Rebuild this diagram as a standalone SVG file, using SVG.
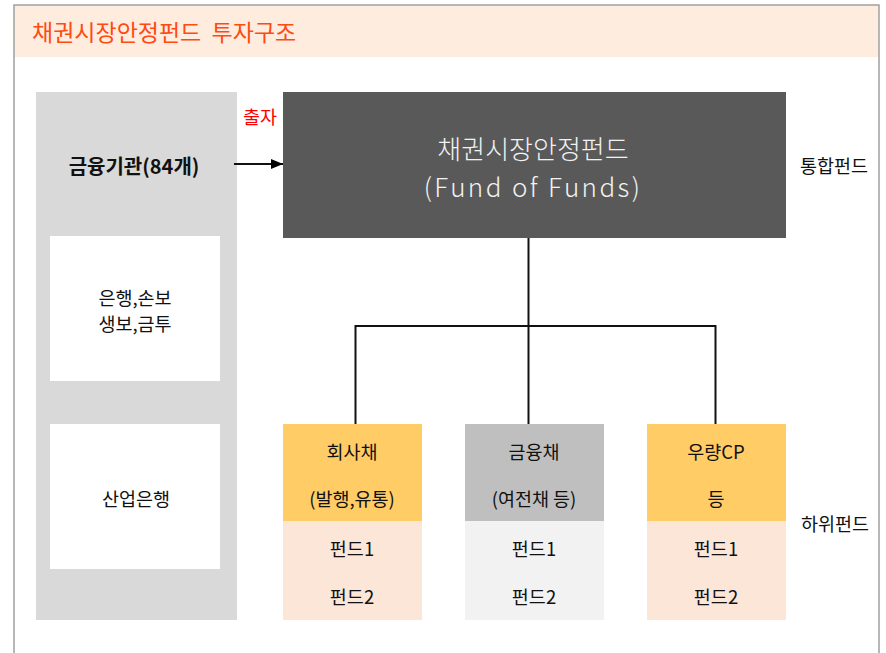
<svg xmlns="http://www.w3.org/2000/svg" width="886" height="653" viewBox="0 0 886 653">
<defs>
<style>
text{font-family:"Noto Sans CJK KR","Noto Sans",sans-serif;dominant-baseline:central;text-anchor:middle;fill:#111;font-size:18.5px}
.title{fill:#FF4A12;font-size:23px;text-anchor:start;white-space:pre}
.dark{fill:#F2F2F2;font-size:26px;font-weight:300}
.bold{font-weight:bold;font-size:20px}
.red{fill:#FF0000;font-size:18.5px}
.conn{stroke:#111;stroke-width:2;fill:none}
</style>
<marker id="ah" markerWidth="12" markerHeight="10" refX="12" refY="5" orient="auto" markerUnits="userSpaceOnUse">
<path d="M0,0 L12,5 L0,10 Z" fill="#000"/>
</marker>
</defs>
<rect x="0" y="0" width="886" height="653" fill="#fff"/>
<g id="frame">
<rect x="14" y="5" width="865" height="52" fill="#FEEDDE"/>
<path d="M14,653 V5 H879 V653" fill="none" stroke="#A0A0A0" stroke-width="1.5"/>
<text class="title" x="32" y="31">채권시장안정펀드  투자구조</text>
</g>
<g id="institutions">
<rect x="36" y="92" width="201" height="528" fill="#D9D9D9"/>
<text class="bold" x="134" y="165">금융기관(84개)</text>
</g>
<g id="banks">
<rect x="50" y="236" width="170" height="145" fill="#fff"/>
<text x="135" y="297">은행,손보</text>
<text x="135" y="323">생보,금투</text>
</g>
<g id="kdb">
<rect x="50" y="424" width="170" height="145" fill="#fff"/>
<text x="136" y="498">산업은행</text>
</g>
<g id="fof">
<rect x="283" y="92" width="503" height="146" fill="#595959"/>
<text class="dark" x="533" y="147">채권시장안정펀드</text>
<text class="dark" x="533" y="185" letter-spacing="2.4">(Fund of Funds)</text>
</g>
<g id="label-top"><text x="834" y="165">통합펀드</text></g>
<g id="label-bottom"><text x="835" y="523">하위펀드</text></g>
<g id="corp">
<rect x="283" y="424" width="139" height="97" fill="#FFCC66"/>
<rect x="283" y="521" width="139" height="99" fill="#FBE6D8"/>
<text x="352" y="451">회사채</text>
<text x="352" y="498">(발행,유통)</text>
<text x="352" y="548">펀드1</text>
<text x="352" y="596">펀드2</text>
</g>
<g id="fin">
<rect x="465" y="424" width="139" height="97" fill="#BFBFBF"/>
<rect x="465" y="521" width="139" height="99" fill="#F2F2F2"/>
<text x="534" y="451">금융채</text>
<text x="534" y="498">(여전채 등)</text>
<text x="534" y="548">펀드1</text>
<text x="534" y="596">펀드2</text>
</g>
<g id="cp">
<rect x="647" y="424" width="139" height="97" fill="#FFCC66"/>
<rect x="647" y="521" width="139" height="99" fill="#FBE6D8"/>
<text x="716" y="451">우량CP</text>
<text x="716" y="498">등</text>
<text x="716" y="548">펀드1</text>
<text x="716" y="596">펀드2</text>
</g>
<g id="connectors">
<line class="conn" x1="234" y1="164" x2="283" y2="164" stroke-width="1.5" marker-end="url(#ah)"/>
<text class="red" x="260" y="116">출자</text>
<path class="conn" d="M528.5,238 V326"/>
<path class="conn" d="M355.5,424 V326 H715.5 V424"/>
<path class="conn" d="M528.5,326 V424"/>
</g>
</svg>
